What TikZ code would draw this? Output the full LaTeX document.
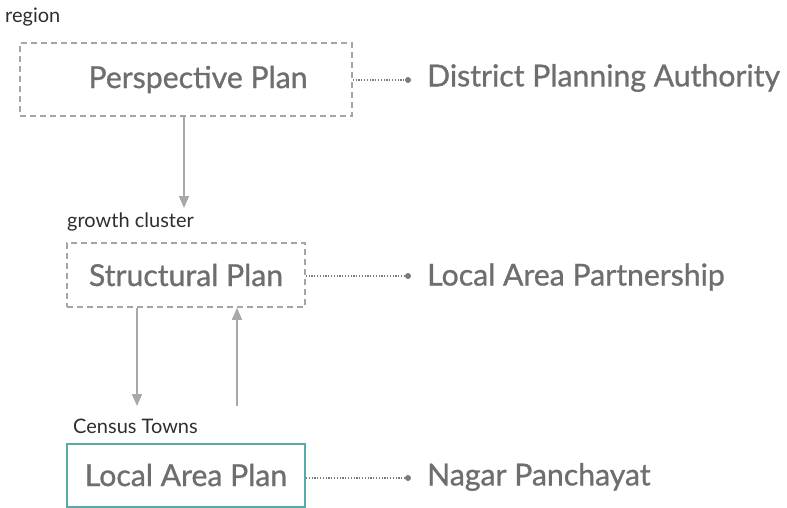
\documentclass[tikz,border=0pt]{standalone}
\usepackage{fontspec}
\setmainfont{Lato}
\newfontfamily\medfont[FakeBold=0.9]{Lato}
\usetikzlibrary{arrows.meta,calc}
\definecolor{txt}{HTML}{6E6E70}
\definecolor{lbl}{HTML}{2E2E2E}
\definecolor{dash}{HTML}{A5A5A7}
\definecolor{arr}{HTML}{A9A9AC}
\definecolor{dotc}{HTML}{7A7A7C}
\definecolor{teal}{HTML}{5AA8A8}
\tikzset{
  big/.style={font=\medfont\fontsize{30.2}{34}\selectfont},
  plan/.style={big, draw=dash, dashed, dash pattern=on 6pt off 4pt, line width=1.6pt, inner sep=0pt, text=txt},
  active/.style={big, draw=teal, line width=2pt, inner sep=0pt, text=txt},
  small/.style={text=lbl, font=\fontsize{20}{23}\selectfont, anchor=west, inner sep=0pt},
  actor/.style={big, text=txt, anchor=west, inner sep=0pt},
  link/.style={draw=dotc, line width=1.2pt, dash pattern=on 1.2pt off 1.6pt},
  flow/.style={draw=arr, line width=1.6pt, -{Triangle[width=10pt,length=12pt]}},
  dotend/.style={circle, fill=dotc, minimum size=6pt, inner sep=0pt}
}
\begin{document}
\begin{tikzpicture}[x=1pt,y=-1pt]
\useasboundingbox (0,0) rectangle (787,508);
% labels
\node[small] (lr) at (5,17) {region};
\node[small] (lg) at (67,222) {growth cluster};
\node[small] (lc) at (73,426) {Census Towns};
% boxes
\node[plan, minimum width=332pt, minimum height=73pt] (pp) at (186,79.5) {\hspace*{24pt}Perspective Plan};
\node[plan, minimum width=238pt, minimum height=64pt] (sp) at (186,275) {Structural Plan};
\node[active, minimum width=238pt, minimum height=63pt] (la) at (186,475) {Local Area Plan};
% dots
\node[dotend] (d1) at (408,80) {};
\node[dotend] (d2) at (408,276) {};
\node[dotend] (d3) at (408,478) {};
% actors
\node[actor] (a1) at (427,78) {District Planning Authority};
\node[actor] (a2) at (427,277) {Local Area Partnership};
\node[actor] (a3) at (427,477) {Nagar Panchayat};
% links
\draw[link] (pp.east |- d1) -- (d1);
\draw[link] (sp.east |- d2) -- (d2);
\draw[link] (la.east |- d3) -- (d3);
% flows
\coordinate (e1) at (184,208);
\coordinate (e2) at (137,406);
\coordinate (e3) at (237,406);
\draw[flow] (pp.south -| e1) -- (e1);
\draw[flow] (sp.south -| e2) -- (e2);
\draw[flow] (e3) -- (sp.south -| e3);
\end{tikzpicture}
\end{document}
